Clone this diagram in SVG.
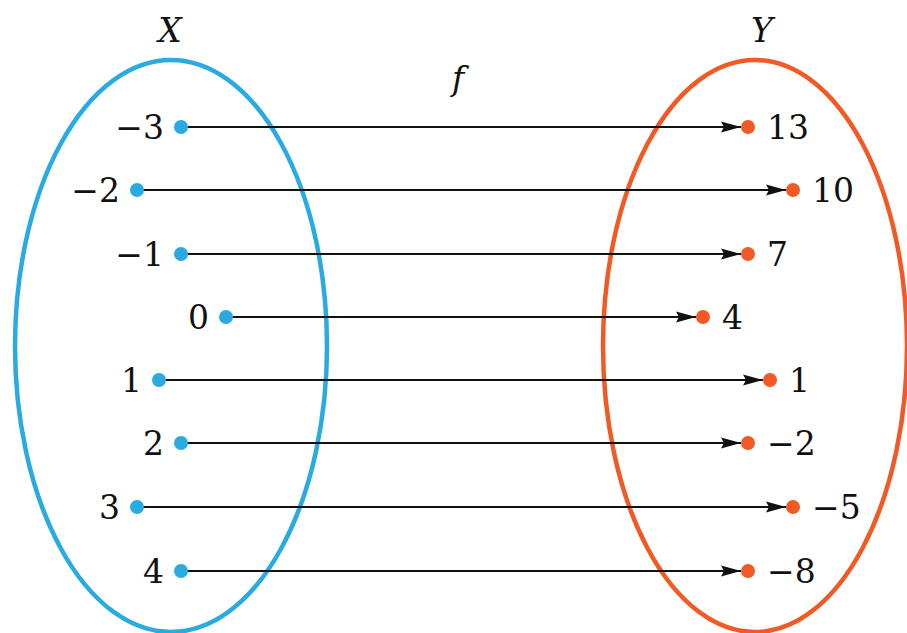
<svg xmlns="http://www.w3.org/2000/svg" width="907" height="633" viewBox="0 0 907 633">
<style>
.set{fill:none;stroke-width:4.5}
.xs{stroke:#29abe2}
.ys{stroke:#f15a24}
.xd{fill:#29abe2}
.yd{fill:#f15a24}
.arr{stroke:#111;stroke-width:2.2;fill:none;marker-end:url(#ah)}
text{font-family:"DejaVu Serif","Liberation Serif",serif;font-size:33px;fill:#111}
.it{font-style:italic}
</style>
<defs>
<marker id="ah" markerUnits="userSpaceOnUse" markerWidth="22" markerHeight="12" refX="20" refY="6" orient="auto">
<path d="M0,0.5 L20,6 L0,11.5 L3,6 z" fill="#111"/>
</marker>
</defs>
<g id="setX">
<ellipse class="set xs" cx="171" cy="346" rx="156" ry="286"/>
<text class="it" x="170" y="42" text-anchor="middle">X</text>
</g>
<g id="setY">
<ellipse class="set ys" cx="755" cy="346" rx="152" ry="286"/>
<text class="it" x="762" y="42" text-anchor="middle">Y</text>
</g>
<g id="label-f"><text class="it" x="458" y="90" text-anchor="middle">f</text></g>
<g id="connectors">
<line class="arr" x1="181" y1="127" x2="741" y2="127"/>
<line class="arr" x1="137" y1="190" x2="786" y2="190"/>
<line class="arr" x1="181" y1="254" x2="741" y2="254"/>
<line class="arr" x1="226" y1="317" x2="696" y2="317"/>
<line class="arr" x1="159" y1="380" x2="763" y2="380"/>
<line class="arr" x1="181" y1="443" x2="741" y2="443"/>
<line class="arr" x1="137" y1="507" x2="786" y2="507"/>
<line class="arr" x1="181" y1="571" x2="741" y2="571"/>
</g>
<g id="x-m3"><circle class="xd" cx="181" cy="127" r="7"/><text text-anchor="end" x="164" y="139">−3</text></g>
<g id="x-m2"><circle class="xd" cx="137" cy="190" r="7"/><text text-anchor="end" x="120" y="202">−2</text></g>
<g id="x-m1"><circle class="xd" cx="181" cy="254" r="7"/><text text-anchor="end" x="164" y="266">−1</text></g>
<g id="x-0"><circle class="xd" cx="226" cy="317" r="7"/><text text-anchor="end" x="209" y="329">0</text></g>
<g id="x-1"><circle class="xd" cx="159" cy="380" r="7"/><text text-anchor="end" x="142" y="392">1</text></g>
<g id="x-2"><circle class="xd" cx="181" cy="443" r="7"/><text text-anchor="end" x="164" y="455">2</text></g>
<g id="x-3"><circle class="xd" cx="137" cy="507" r="7"/><text text-anchor="end" x="120" y="519">3</text></g>
<g id="x-4"><circle class="xd" cx="181" cy="571" r="7"/><text text-anchor="end" x="164" y="583">4</text></g>
<g id="y-13"><circle class="yd" cx="748" cy="127" r="7"/><text x="767" y="139">13</text></g>
<g id="y-10"><circle class="yd" cx="793" cy="190" r="7"/><text x="812" y="202">10</text></g>
<g id="y-7"><circle class="yd" cx="748" cy="254" r="7"/><text x="767" y="266">7</text></g>
<g id="y-4"><circle class="yd" cx="703" cy="317" r="7"/><text x="722" y="329">4</text></g>
<g id="y-1"><circle class="yd" cx="770" cy="380" r="7"/><text x="789" y="392">1</text></g>
<g id="y-m2"><circle class="yd" cx="748" cy="443" r="7"/><text x="767" y="455">−2</text></g>
<g id="y-m5"><circle class="yd" cx="793" cy="507" r="7"/><text x="812" y="519">−5</text></g>
<g id="y-m8"><circle class="yd" cx="748" cy="571" r="7"/><text x="767" y="583">−8</text></g>
</svg>
